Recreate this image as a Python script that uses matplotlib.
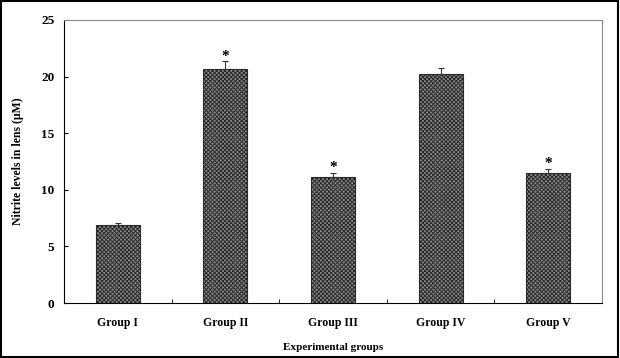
import numpy as np, matplotlib; matplotlib.use("Agg")
import matplotlib.pyplot as plt
from matplotlib.patches import Rectangle

groups = ["Group I", "Group II", "Group III", "Group IV", "Group V"]
means = [6.9, 20.65, 11.15, 20.2, 11.45]
errs = [0.2, 0.7, 0.35, 0.6, 0.4]
stars = [False, True, True, False, True]

plt.rcParams["font.family"] = ["Liberation Serif", "DejaVu Serif"]
plt.rcParams["font.weight"] = "bold"
plt.rcParams["hatch.linewidth"] = 0.7
plt.rcParams["hatch.color"] = "#3a3a3a"

fig = plt.figure(figsize=(6.2, 3.58), dpi=100)
fig.patches.append(Rectangle((0.002, 0.003), 0.995, 0.993, transform=fig.transFigure,
                             fill=False, ec="black", lw=1.5))
ax = fig.add_axes([64/620, 1-303/358, 538/620, 283/358])
x = np.arange(len(groups))
ax.bar(x, means, width=0.41, color="#8a8a8a", edgecolor="#2a2a2a", hatch="xxxxxxxx", lw=0.8)
ax.errorbar(x, means, yerr=[np.zeros(5), errs], fmt="none", ecolor="#333", elinewidth=0.8, capsize=2.5, capthick=0.8)
for xi, m, e, s in zip(x, means, errs, stars):
    if s:
        ax.text(xi, m + e + 0.45, "*", ha="center", va="center", fontsize=11, fontweight="bold")
ax.set_xlim(-0.5, 4.5); ax.set_ylim(0, 25)
ax.set_yticks([0, 5, 10, 15, 20, 25])
ax.set_xticks(x); ax.set_xticklabels(groups, fontsize=8.5)
ax.set_xticks(np.arange(0.5, 4.5, 1), minor=True)
ax.tick_params(axis="x", which="major", length=0, pad=10)
ax.tick_params(axis="x", which="minor", direction="in", length=3)
ax.tick_params(axis="y", direction="in", length=3, labelsize=9.5, pad=7)
for t in ax.get_yticklabels(): t.set_fontweight("bold")
for t in ax.get_xticklabels(): t.set_fontweight("bold")
ax.spines["top"].set_color("#888"); ax.spines["right"].set_color("#888")
ax.set_xlabel("Experimental groups", fontsize=8, fontweight="bold", labelpad=10)
ax.set_ylabel("Nitrite levels in lens (\u03bcM)", fontsize=8.5, fontweight="bold", labelpad=12)
fig.savefig("out.png", dpi=100)
